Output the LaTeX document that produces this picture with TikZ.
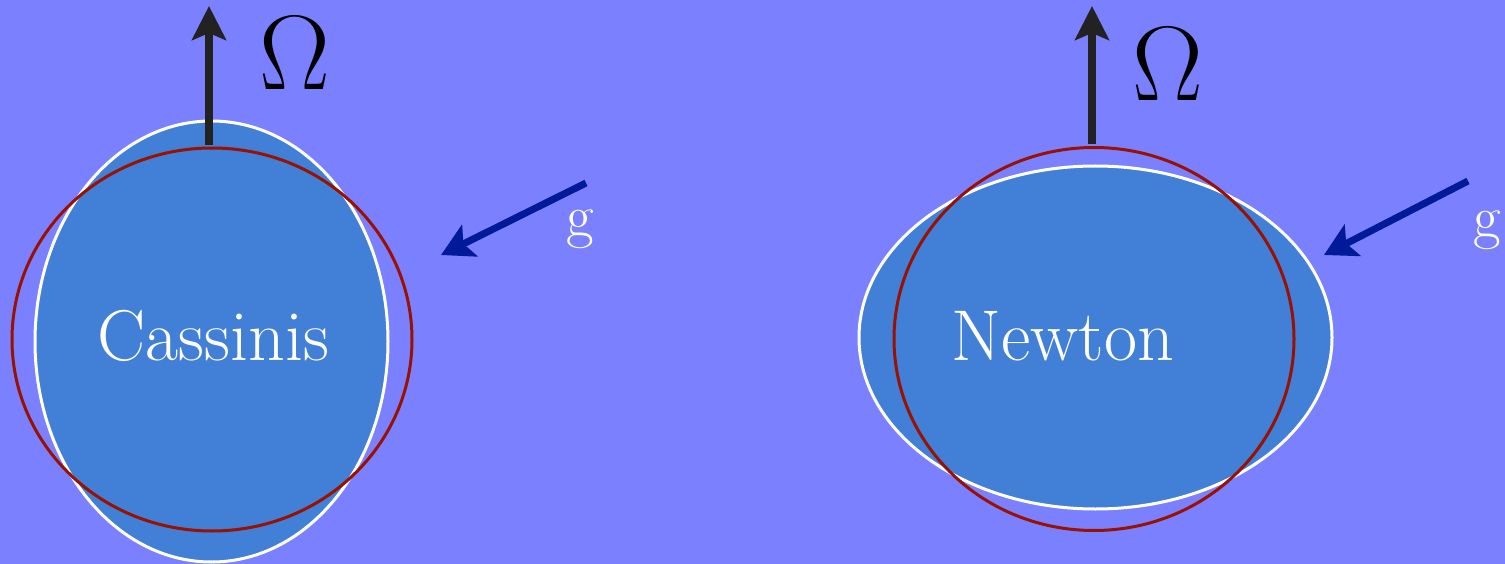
\documentclass[tikz,border=0pt]{standalone}
\usepackage{graphicx}
\usetikzlibrary{shapes.geometric,arrows.meta,positioning}
\definecolor{skyback}{RGB}{123,128,255}
\definecolor{earthfill}{RGB}{66,127,214}
\definecolor{spherered}{RGB}{153,17,0}
\definecolor{axisblack}{RGB}{34,34,34}
\definecolor{gravblue}{RGB}{0,26,153}
\newcommand{\bigomega}{\scalebox{4.26}{$\Omega$}}
\begin{document}
\begin{tikzpicture}[x=1pt, y=-1pt,
  earth/.style={ellipse, draw=white, line width=3pt, fill=earthfill, inner sep=0pt},
  sphere/.style={ellipse, draw=spherered, line width=3pt, inner sep=0pt,
                 minimum width=400pt, minimum height=383pt},
  bodylabel/.style={text=white, font=\fontsize{72}{80}\selectfont, anchor=base, inner sep=0pt},
  omega/.style={text=black, font=\Huge, inner sep=0pt},
  glabel/.style={text=white, font=\fontsize{60}{70}\selectfont, inner sep=0pt},
  spin/.style={-{Stealth[length=34pt, width=34pt, inset=7pt]}, line width=8pt, draw=axisblack},
  pull/.style={-{Stealth[length=32pt, width=35pt, inset=7pt]}, line width=7pt, draw=gravblue}]
\useasboundingbox (0,0) rectangle (1505,564);
\fill[skyback] (0,0) rectangle (1505,564);
% Cassini: prolate figure
\node[earth, minimum width=353pt, minimum height=441pt] (cassEarth) at (211.5,341.5) {};
\node[sphere] (cassSphere) at (212,339.5) {};
\node[bodylabel] (cassName) at (213.5,360) {Cassinis};
\coordinate (cassBase) at (209,145);
\coordinate (cassTip) at (209,6);
\draw[spin] (cassBase) -- (cassTip);
\node[omega] (cassOmega) at (295,53) {\bigomega};
\coordinate (cassGfrom) at (586,183);
\coordinate (cassGto) at (441,255);
\draw[pull] (cassGfrom) -- (cassGto);
\node[glabel] (cassG) at (580.5,229) {g};
% Newton: oblate figure
\node[earth, minimum width=473pt, minimum height=343pt] (newtEarth) at (1095.5,337.5) {};
\node[sphere] (newtSphere) at (1094,339) {};
\node[bodylabel] (newtName) at (1063,360) {Newton};
\coordinate (newtBase) at (1092,144);
\coordinate (newtTip) at (1092,6);
\draw[spin] (newtBase) -- (newtTip);
\node[omega] (newtOmega) at (1167.5,64) {\bigomega};
\coordinate (newtGfrom) at (1468,181);
\coordinate (newtGto) at (1324,255);
\draw[pull] (newtGfrom) -- (newtGto);
\node[glabel] (newtG) at (1487.5,230.5) {g};
\end{tikzpicture}
\end{document}
